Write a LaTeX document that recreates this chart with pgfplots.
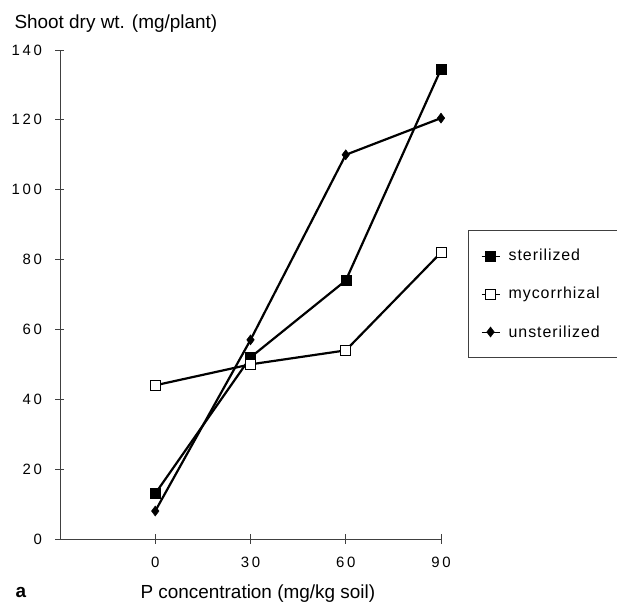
\documentclass[border=0pt]{standalone}
\usepackage{fontspec}
\setmainfont{Liberation Sans}
\newfontfamily\spaced[LetterSpace=18]{Liberation Sans}
\newfontfamily\legfont[LetterSpace=6]{Liberation Sans}
\usepackage{pgfplots}
\pgfplotsset{compat=1.18}
\definecolor{axisgray}{gray}{0.25}
\begin{document}
\begin{tikzpicture}
\path[use as bounding box] (-60bp,-65bp) rectangle (557bp,539bp);
\begin{axis}[
    at={(0,0)}, anchor=south west,
    scale only axis, width=381bp, height=489bp,
    xmin=-30, xmax=90, ymin=0, ymax=140,
    axis lines=left,
    axis line style={-, axisgray, line width=0.8bp},
    xtick={0,30,60,90}, ytick={0,20,...,140},
    tick align=center, major tick length=9bp,
    tick style={axisgray, line width=0.8bp},
    /pgf/number format/assume math mode=true,
    ticklabel style={font=\spaced\fontsize{15}{18}\selectfont},
    xticklabel style={yshift=-10bp},
    yticklabel style={xshift=-10bp},
    clip=false,
    legend style={at={(rel axis cs:1.0709,0.6319)}, anchor=north west,
        draw=axisgray, line width=0.8bp,
        font=\legfont\fontsize{16}{19}\selectfont,
        row sep=21bp, inner ysep=17bp, inner xsep=6bp},
    legend cell align=left,
    legend image code/.code={
        \path (0bp,0bp) (30bp,0bp);
        \draw[mark repeat=2, mark phase=2, line width=0.8bp]
            plot coordinates {(6bp,0bp) (15bp,0bp) (24bp,0bp)};},
]
\addplot[black, line width=2.2bp, mark=square*, mark size=5bp,
    mark options={fill=black, line width=0.5bp}]
    coordinates {(0,13) (30,52) (60,74) (90,134.5)};
\addlegendentry{\makebox[130bp][l]{sterilized}}
\addplot[black, line width=2.2bp, mark=square*, mark size=5bp,
    mark options={fill=white, line width=0.8bp}]
    coordinates {(0,44) (30,50) (60,54) (90,82)};
\addlegendentry{\makebox[130bp][l]{mycorrhizal}}
\addplot[black, line width=2.2bp, mark=diamond*, mark size=5bp,
    mark options={fill=black, line width=0.5bp}]
    coordinates {(0,8) (30,57) (60,110) (90,120.5)};
\addlegendentry{\makebox[130bp][l]{unsterilized}}

\node[anchor=base west, font=\fontsize{19}{22}\selectfont, xshift=-49bp, yshift=21bp]
    at (rel axis cs:0,1) {Shoot dry wt. (mg/plant)};
\node[anchor=base west, font=\fontsize{19}{22}\selectfont, xshift=77bp, yshift=-59bp]
    at (rel axis cs:0,0) {P concentration (mg/kg soil)};
\node[anchor=base west, font=\bfseries\fontsize{19}{22}\selectfont, xshift=-48bp, yshift=-58bp]
    at (rel axis cs:0,0) {a};
\end{axis}
\end{tikzpicture}
\end{document}
